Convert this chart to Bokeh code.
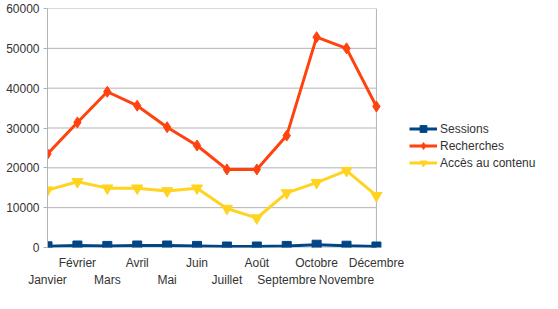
from bokeh.plotting import figure
from bokeh.models import Range1d, FixedTicker, LinearAxis, Legend, LegendItem
from bokeh.embed import file_html
from bokeh.resources import INLINE

months = ["Janvier", "Février", "Mars", "Avril", "Mai", "Juin", "Juillet",
          "Août", "Septembre", "Octobre", "Novembre", "Décembre"]
sessions = [300, 500, 400, 500, 500, 400, 250, 250, 400, 700, 450, 250]
recherches = [23500, 31400, 39100, 35600, 30200, 25600, 19600, 19600, 28100, 52800, 50000, 35400]
acces = [14400, 16500, 14900, 14900, 14200, 14900, 9800, 7400, 13700, 16300, 19300, 13000]
yticks = [0, 10000, 20000, 30000, 40000, 50000, 60000]
series_names = ["Sessions", "Recherches", "Accès au contenu"]
colors = ["#004586", "#ff420e", "#ffd320"]
markers = ["square", "diamond", "inverted_triangle"]
msizes = [9, 11, 11]

FONT = "Liberation Sans"
GRAY = "#b3b3b3"
TXT = "#333333"

x = list(range(len(months)))
last = len(months) - 1
ymax = yticks[-1]

# frame extends to the right so the legend can sit inside it
p = figure(width=538, height=289, output_backend="svg", toolbar_location=None,
           x_range=Range1d(0, 16.42), y_range=Range1d(0, ymax),
           x_axis_location=None, min_border_left=47, min_border_top=8,
           min_border_right=0, min_border_bottom=0)
p.outline_line_color = None
p.background_fill_color = "white"
p.border_fill_color = "white"
p.xgrid.visible = False
p.ygrid.visible = False

# plot-area grid and border limited to the category span
p.segment(x0=[0] * len(yticks), y0=yticks, x1=[last] * len(yticks), y1=yticks,
          line_color=GRAY, line_width=1)
p.segment(x0=[last], y0=[0], x1=[last], y1=[ymax], line_color=GRAY, line_width=1)

ya = p.yaxis[0]
ya.ticker = FixedTicker(ticks=yticks)
ya.axis_line_color = GRAY
ya.major_tick_line_color = GRAY
ya.major_tick_out = 4
ya.major_tick_in = 0
ya.minor_tick_line_color = None
ya.major_label_text_font = FONT
ya.major_label_text_font_size = "12px"
ya.major_label_text_color = TXT
ya.major_label_standoff = 4
ya.formatter.use_scientific = False

labels = {i: m for i, m in enumerate(months)}
ax1 = LinearAxis(ticker=FixedTicker(ticks=[i for i in x if i % 2 == 1]),
                 major_label_overrides=labels)
ax1.axis_line_color = None
ax1.major_tick_line_color = None
ax1.minor_tick_line_color = None
ax1.major_tick_out = 0
ax1.major_label_standoff = 8
ax2 = LinearAxis(ticker=FixedTicker(ticks=[i for i in x if i % 2 == 0]),
                 major_label_overrides=labels)
ax2.axis_line_color = None
ax2.major_tick_line_color = None
ax2.minor_tick_line_color = None
ax2.major_tick_out = 0
ax2.major_label_standoff = 0
for ax in (ax1, ax2):
    ax.major_label_text_font = FONT
    ax.major_label_text_font_size = "12px"
    ax.major_label_text_color = TXT
p.add_layout(ax1, "below")
p.add_layout(ax2, "below")

items = []
for name, ys, c, mk, ms in zip(series_names, [sessions, recherches, acces], colors, markers, msizes):
    rl = p.line(x, ys, line_color=c, line_width=3)
    rm = p.scatter(x, ys, marker=mk, size=ms, color=c)
    items.append(LegendItem(label=name, renderers=[rl, rm]))

legend = Legend(items=items, location=(362, 76))
legend.border_line_color = None
legend.background_fill_alpha = 0
legend.label_text_font = FONT
legend.label_text_font_size = "12px"
legend.label_text_color = TXT
legend.glyph_width = 28
legend.glyph_height = 17
legend.spacing = 0
legend.padding = 0
legend.margin = 0
legend.label_standoff = 3
legend.label_height = 17
p.add_layout(legend, "center")

open("out.html", "w").write(file_html(p, INLINE))
